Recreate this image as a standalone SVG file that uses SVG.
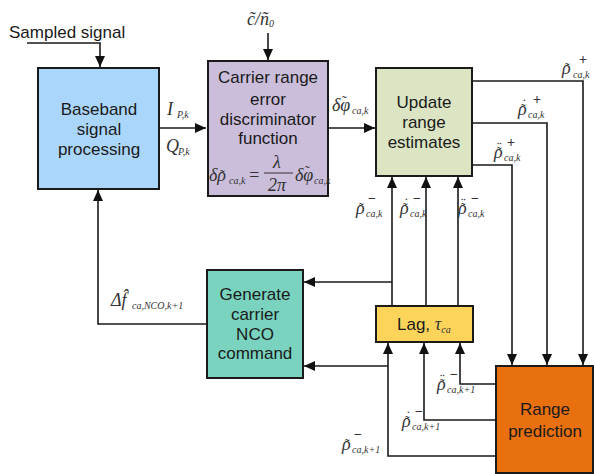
<svg xmlns="http://www.w3.org/2000/svg" width="595" height="474" viewBox="0 0 595 474">
<defs>
<marker id="ah" markerWidth="11" markerHeight="10" refX="11" refY="5" orient="auto" markerUnits="userSpaceOnUse">
<path d="M0,0 L11,5 L0,10 z" fill="#111"/>
</marker>
<style>
.box{stroke:#1a1a1a;stroke-width:2}
.t{font-family:"Liberation Sans",Arial,sans-serif;font-size:17px;fill:#1a1a1a;text-anchor:middle}
.st{text-anchor:start}
.m{font-family:"Liberation Serif","Times New Roman",serif;font-style:italic;font-size:18px;fill:#333}
.s{font-size:10px}
.k{font-size:14px;font-style:normal}
.p{font-size:14px;font-style:normal;font-weight:bold}
.ln{fill:none;stroke:#1a1a1a;stroke-width:1.6}
.ar{marker-end:url(#ah)}
</style>
</defs>
<rect width="595" height="474" fill="#fff"/>

<g id="connectors">
<polyline class="ln ar" points="27,43 100,43 100,67"/>
<line class="ln ar" x1="160" y1="128" x2="206" y2="128"/>
<line class="ln ar" x1="268" y1="33" x2="268" y2="60"/>
<line class="ln ar" x1="328" y1="128" x2="375" y2="128"/>
<polyline class="ln ar" points="472,81 583,81 583,365"/>
<polyline class="ln ar" points="472,123 547,123 547,365"/>
<polyline class="ln ar" points="472,165 512,165 512,365"/>
<line class="ln ar" x1="392" y1="306" x2="392" y2="177"/>
<line class="ln ar" x1="426" y1="306" x2="426" y2="177"/>
<line class="ln ar" x1="458" y1="306" x2="458" y2="177"/>
<polyline class="ln ar" points="392,282 304,282"/>
<polyline class="ln ar" points="496,384 460,384 460,343"/>
<polyline class="ln ar" points="496,420 424,420 424,343"/>
<polyline class="ln ar" points="496,456 388,456 388,343"/>
<polyline class="ln ar" points="388,366 304,366"/>
<polyline class="ln ar" points="207,324 98,324 98,190"/>
</g>

<g id="baseband">
<rect class="box" x="38" y="68" width="121" height="121" fill="#abd6fb"/>
<text class="t" x="99" y="115">Baseband</text>
<text class="t" x="99" y="135">signal</text>
<text class="t" x="99" y="155">processing</text>
</g>

<g id="discriminator">
<rect class="box" x="208" y="61" width="120" height="135" fill="#cbbedb"/>
<text class="t" x="268" y="83">Carrier range</text>
<text class="t" x="268" y="105">error</text>
<text class="t" x="268" y="125">discriminator</text>
<text class="t" x="268" y="144">function</text>
<text class="m" font-size="16"><tspan x="209" y="181">δρ</tspan><tspan x="220" y="180" class="k">˜</tspan><tspan class="s" x="229" y="184">ca,k</tspan></text>
<text class="m" x="248" y="181" font-size="16" font-style="normal">=</text>
<text class="m" x="273" y="168" font-size="14">λ</text>
<line x1="264" y1="173" x2="293" y2="173" stroke="#333" stroke-width="1"/>
<text class="m" x="268" y="191" font-size="15">2π</text>
<text class="m" font-size="16"><tspan x="295" y="181">δφ</tspan><tspan x="305" y="176" class="k">˜</tspan><tspan class="s" x="314" y="184">ca,k</tspan></text>
</g>

<g id="update">
<rect class="box" x="376" y="68" width="96" height="108" fill="#dbe5c3"/>
<text class="t" x="424" y="108">Update</text>
<text class="t" x="424" y="128">range</text>
<text class="t" x="424" y="148">estimates</text>
</g>

<g id="generate">
<rect class="box" x="207" y="270" width="96" height="108" fill="#79d3bf"/>
<text class="t" x="255" y="300">Generate</text>
<text class="t" x="255" y="320">carrier</text>
<text class="t" x="255" y="340">NCO</text>
<text class="t" x="255" y="359">command</text>
</g>

<g id="lag">
<rect class="box" x="376" y="306" width="97" height="36" fill="#fdd45a"/>
<text class="t st" x="397" y="330">Lag, <tspan class="m" font-size="19" fill="#1a1a1a">τ</tspan><tspan class="m s" dy="3" fill="#1a1a1a">ca</tspan></text>
</g>

<g id="prediction">
<rect class="box" x="496" y="366" width="97" height="107" fill="#e8700f"/>
<text class="t" x="545" y="415">Range</text>
<text class="t" x="545" y="437">prediction</text>
</g>

<g id="labels">
<text class="t st" x="9" y="38" font-size="15.5">Sampled signal</text>
<text class="m" x="247" y="25" font-size="20">c̃/ñ<tspan class="s" dy="2">0</tspan></text>
<text class="m" x="167" y="115" font-size="16">I<tspan class="s" x="177" y="118">P,k</tspan></text>
<text class="m" x="166" y="152" font-size="16">Q<tspan class="s" x="178" y="155">P,k</tspan></text>
<text class="m" font-size="17"><tspan x="332" y="111">δφ</tspan><tspan x="342" y="106" class="k">˜</tspan><tspan class="s" x="352" y="114">ca,k</tspan></text>

<text class="m"><tspan x="562" y="74">ρ</tspan><tspan class="k" x="565" y="73">˜</tspan><tspan class="p" x="579" y="64">+</tspan><tspan class="s" x="573" y="78">ca,k</tspan></text>
<text class="m"><tspan x="518" y="115">ρ</tspan><tspan class="k" x="521" y="114">˜</tspan><tspan class="k" x="522" y="109">˙</tspan><tspan class="p" x="533" y="104">+</tspan><tspan class="s" x="528" y="118">ca,k</tspan></text>
<text class="m"><tspan x="494" y="158">ρ</tspan><tspan class="k" x="497" y="157">˜</tspan><tspan class="k" x="497" y="152">¨</tspan><tspan class="p" x="507" y="147">+</tspan><tspan class="s" x="504" y="161">ca,k</tspan></text>

<text class="m"><tspan x="356" y="214">ρ</tspan><tspan class="k" x="359" y="213">˜</tspan><tspan class="p" x="368" y="203">−</tspan><tspan class="s" x="366" y="217">ca,k</tspan></text>
<text class="m"><tspan x="400" y="214">ρ</tspan><tspan class="k" x="403" y="213">˜</tspan><tspan class="k" x="404" y="208">˙</tspan><tspan class="p" x="413" y="203">−</tspan><tspan class="s" x="410" y="217">ca,k</tspan></text>
<text class="m"><tspan x="458" y="214">ρ</tspan><tspan class="k" x="461" y="213">˜</tspan><tspan class="k" x="461" y="208">¨</tspan><tspan class="p" x="471" y="203">−</tspan><tspan class="s" x="468" y="217">ca,k</tspan></text>

<text class="m"><tspan x="437" y="390">ρ</tspan><tspan class="k" x="440" y="389">˜</tspan><tspan class="k" x="440" y="384">¨</tspan><tspan class="p" x="450" y="379">−</tspan><tspan class="s" x="447" y="393">ca,k+1</tspan></text>
<text class="m"><tspan x="402" y="427">ρ</tspan><tspan class="k" x="405" y="426">˜</tspan><tspan class="k" x="406" y="421">˙</tspan><tspan class="p" x="415" y="416">−</tspan><tspan class="s" x="412" y="430">ca,k+1</tspan></text>
<text class="m"><tspan x="342" y="450">ρ</tspan><tspan class="k" x="345" y="449">˜</tspan><tspan class="p" x="354" y="439">−</tspan><tspan class="s" x="352" y="453">ca,k+1</tspan></text>

<text class="m" x="111" y="306" font-size="17" font-style="normal">Δ<tspan font-style="italic">f̂</tspan><tspan class="s" font-style="italic" x="132" y="309">ca,NCO,k+1</tspan></text>
</g>
</svg>
